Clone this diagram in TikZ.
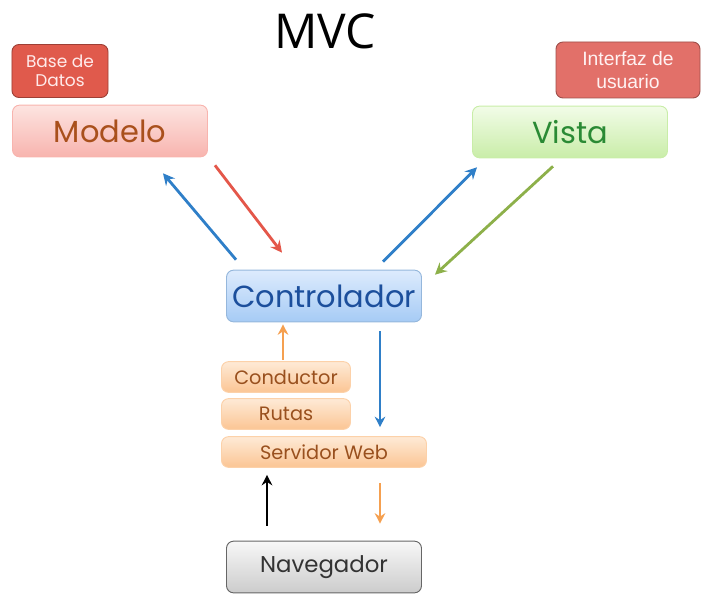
\documentclass[tikz,border=0pt]{standalone}
\usepackage{fontspec}
\setmainfont{Poppins}
\newfontfamily\titlefont{Open Sans}
\newfontfamily\arialfont{Liberation Sans}
\usetikzlibrary{arrows.meta,calc}

\definecolor{arrblue}{HTML}{2F7FC8}
\definecolor{arrred}{HTML}{E4574A}
\definecolor{arrgreen}{HTML}{8DB04A}
\definecolor{arrorange}{HTML}{F5A050}
\definecolor{modeltop}{HTML}{FDE4E1}
\definecolor{modelbot}{HTML}{F8B4AE}
\definecolor{modeltext}{HTML}{A9501C}
\definecolor{viewtop}{HTML}{F2FCE8}
\definecolor{viewbot}{HTML}{C9EDA8}
\definecolor{viewtext}{HTML}{2A8A34}
\definecolor{ctrltop}{HTML}{DDEBFD}
\definecolor{ctrlbot}{HTML}{A6CBF5}
\definecolor{ctrltext}{HTML}{1C4F9C}
\definecolor{stacktop}{HTML}{FEEAD6}
\definecolor{stackbot}{HTML}{FBC594}
\definecolor{stacktext}{HTML}{99501E}
\definecolor{tagred}{HTML}{E05A4C}
\definecolor{tagpink}{HTML}{E27069}

\begin{document}
\begin{tikzpicture}[
    x=0.03cm, y=-0.03cm,
    box/.style={rounded corners=6pt, line width=0.8pt, align=center, inner sep=0pt},
    bigbox/.style={box, minimum width=5.85cm, minimum height=1.55cm, font=\fontsize{26}{28}\selectfont},
    smallbox/.style={box, minimum height=0.92cm, font=\fontsize{16.5}{18}\selectfont,
      draw=stackbot!80, top color=stacktop, bottom color=stackbot, text=stacktext},
    tagbox/.style={box, font=\fontsize{14.5}{16}\selectfont},
    model/.style={bigbox, draw=modelbot, top color=modeltop, bottom color=modelbot, text=modeltext},
    view/.style={bigbox, draw=viewbot, top color=viewtop, bottom color=viewbot, text=viewtext},
    ctrl/.style={bigbox, draw=ctrlbot!90!black, top color=ctrltop, bottom color=ctrlbot, text=ctrltext},
    browser/.style={bigbox, draw=black!60, top color=black!3, bottom color=black!20, text=black!80,
      font=\fontsize{19.5}{21}\selectfont},
    arrow/.style={-{Stealth[length=10pt,width=10pt,inset=3.5pt]}, line width=2.4pt},
    thinarrow/.style={-{Stealth[length=9pt,width=9pt,inset=3pt]}, line width=2.1pt}
  ]
  \useasboundingbox (0,0) rectangle (701,595);

  % Title
  \node[font=\titlefont\fontsize{41}{43}\selectfont] (title) at (325,31) {MVC};

  % Main components
  \node[model] (modelo) at (110,131) {Modelo};
  \node[view] (vista) at (570,132) {Vista};
  \node[ctrl] (control) at (324,296) {Controlador};
  \node[browser] (nav) at (324,567) {Navegador};

  % Little tags above Modelo and Vista
  \node[tagbox, draw=tagred!70!black, fill=tagred, text=red!8, minimum width=2.88cm, minimum height=1.59cm]
    (bd) at (60,71) {Base de\\Datos};
  \node[tagbox, draw=tagpink!70!black, fill=tagpink, text=red!5, minimum width=4.32cm, minimum height=1.68cm,
    font=\arialfont\fontsize{16.5}{19}\selectfont] (ui) at (628,70) {Interfaz de\\usuario};

  % Stack under the controller
  \node[smallbox, minimum width=3.87cm] (cond) at (286,377) {Conductor};
  \node[smallbox, minimum width=3.87cm] (rutas) at (286,414) {Rutas};
  \node[smallbox, minimum width=6.15cm] (web) at (324,452) {Servidor Web};

  % Arrows between Modelo, Vista and Controlador
  \draw[arrow, arrblue] ([shift={(10,-10)}]control.north west) -- ([shift={(-45,16)}]modelo.south east);
  \draw[arrow, arrred] ([shift={(7,8)}]modelo.south east) -- ([shift={(-42,-17)}]control.north);
  \draw[arrow, arrblue] ([shift={(59,-8)}]control.north) -- ([shift={(5,9)}]vista.south west);
  \draw[arrow, arrgreen] ([shift={(-17,8)}]vista.south) -- ([shift={(13,5)}]control.north east);

  % Arrows along the request path
  \draw[thinarrow, arrorange] ([shift={(-3,-1)}]cond.north) -- ([shift={(-41,2)}]control.south);
  \draw[thinarrow, arrblue] ([shift={(56,9)}]control.south) -- ([shift={(56,-9)}]web.north);
  \draw[thinarrow, black] ([shift={(-57,-15)}]nav.north) -- ([shift={(-57,7)}]web.south);
  \draw[thinarrow, arrorange] ([shift={(56,15)}]web.south) -- ([shift={(56,-17)}]nav.north);

\end{tikzpicture}
\end{document}
